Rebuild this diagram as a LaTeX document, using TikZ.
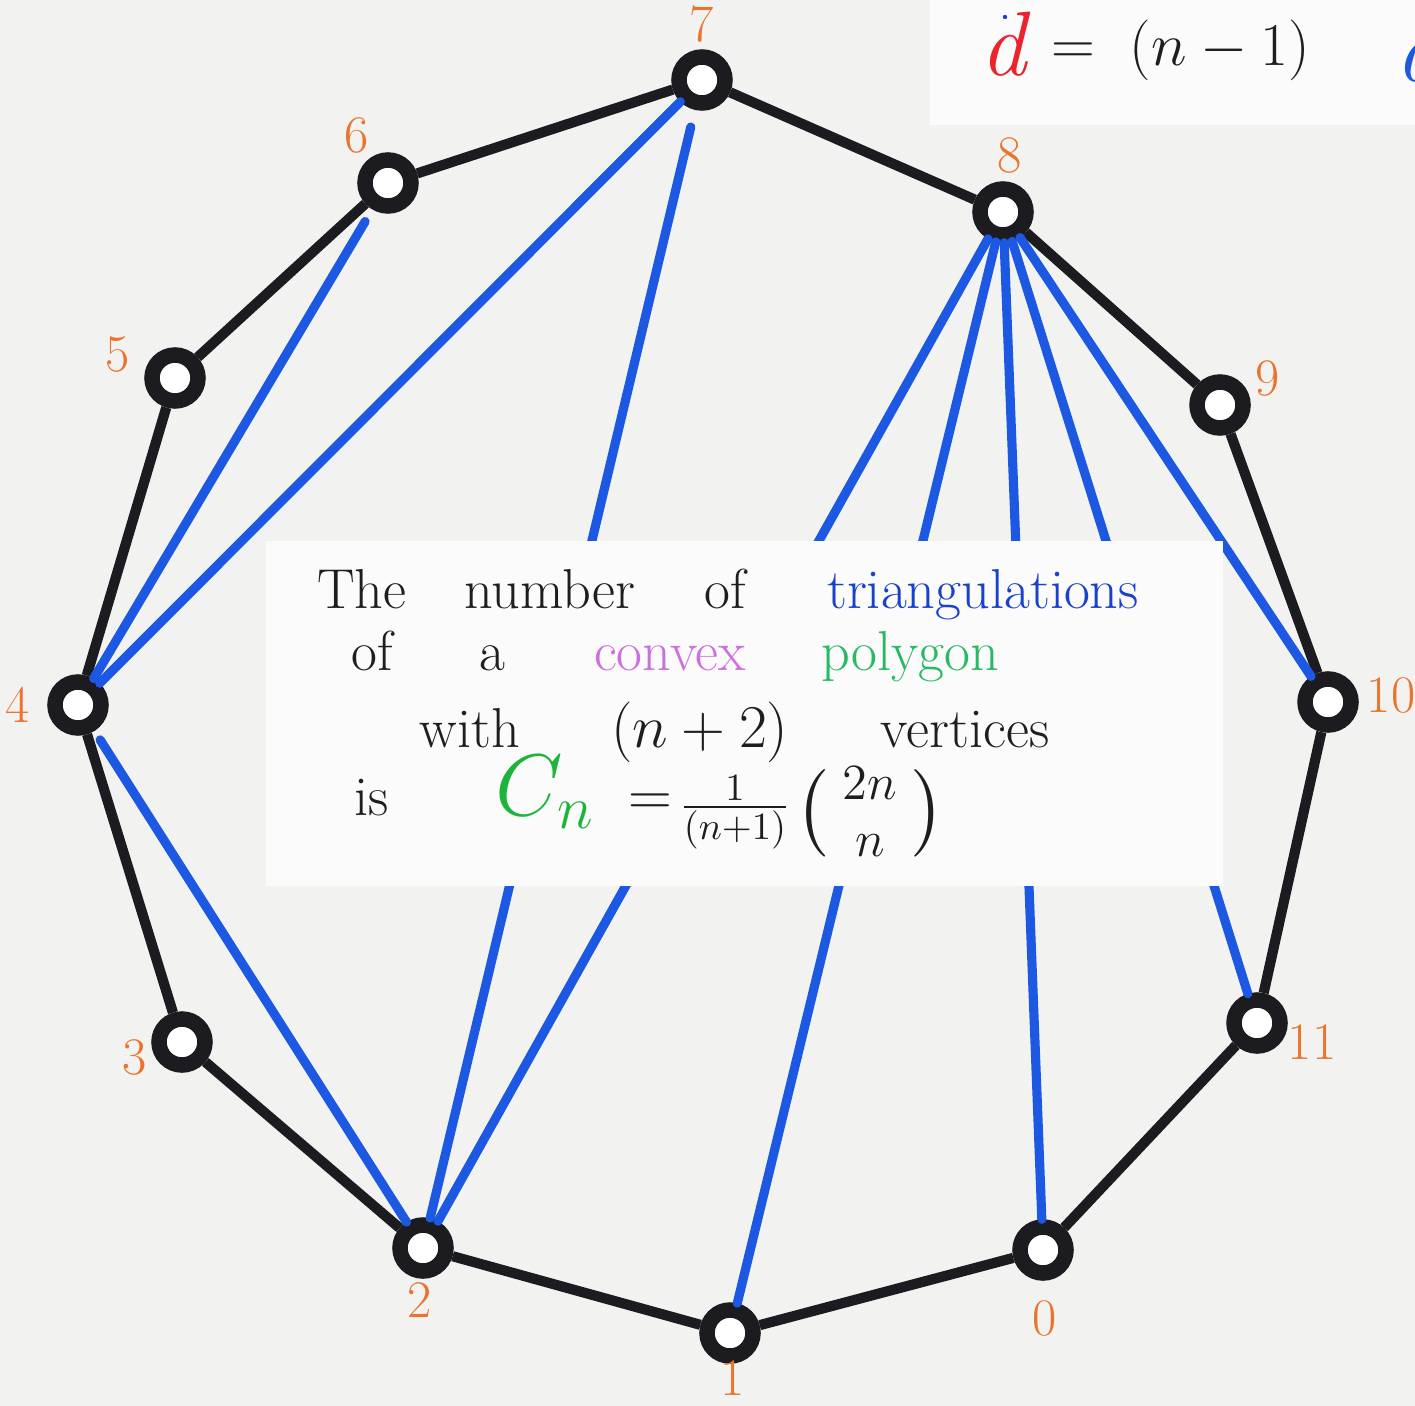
\documentclass[tikz,border=0pt]{standalone}
\usepackage{amsmath}
\usepackage{fontspec}
\definecolor{bgc}{RGB}{242,242,240}
\definecolor{patchc}{RGB}{251,251,251}
\definecolor{boxc}{RGB}{251,251,251}
\definecolor{edgeblack}{RGB}{28,28,32}
\definecolor{diagblue}{RGB}{28,88,225}
\definecolor{labelorange}{RGB}{235,115,45}
\definecolor{convexc}{RGB}{205,110,225}
\definecolor{polyc}{RGB}{40,185,100}
\definecolor{cgreen}{RGB}{30,180,60}
\definecolor{redd}{RGB}{235,35,45}
\definecolor{textblue}{RGB}{25,65,205}
\definecolor{inkc}{RGB}{30,30,30}
\begin{document}
\begin{tikzpicture}[x=0.01cm,y=-0.01cm,
  vtx/.style={circle,draw=edgeblack,line width=4.4pt,fill=white,minimum size=0.46cm,inner sep=0pt},
  lbl/.style={text=labelorange,inner sep=0pt,font=\fontsize{15}{15}\selectfont},
  side/.style={draw=edgeblack,line width=2.9pt},
  diag/.style={draw=diagblue,line width=2.6pt,line cap=round},
  word/.style={anchor=base,inner sep=0pt,text=inkc,font=\fontsize{16}{19}\selectfont}]
\useasboundingbox (0,0) rectangle (1415,1406);
\clip (0,0) rectangle (1415,1406);
\fill[bgc] (0,0) rectangle (1415,1406);
\fill[patchc] (930,0) rectangle (1415,125);
% vertices
\node[vtx] (v0) at (1043,1250) {};
\node[vtx] (v1) at (730,1333) {};
\node[vtx] (v2) at (423,1248) {};
\node[vtx] (v3) at (182,1042) {};
\node[vtx] (v4) at (78,705) {};
\node[vtx] (v5) at (175,378) {};
\node[vtx] (v6) at (388,183) {};
\node[vtx] (v7) at (702,80) {};
\node[vtx] (v8) at (1003,212) {};
\node[vtx] (v9) at (1220,405) {};
\node[vtx] (v10) at (1328,702) {};
\node[vtx] (v11) at (1257,1023) {};
% labels
\node[lbl] (l0) at (1045,1318) {0};
\node[lbl] (l1) at (733,1378) {1};
\node[lbl] (l2) at (420,1300) {2};
\node[lbl] (l3) at (135,1057) {3};
\node[lbl] (l4) at (18,705) {4};
\node[lbl] (l5) at (118,355) {5};
\node[lbl] (l6) at (357,135) {6};
\node[lbl] (l7) at (702,24) {7};
\node[lbl] (l8) at (1010,155) {8};
\node[lbl] (l9) at (1268,378) {9};
\node[lbl] (l10) at (1391,695) {10};
\node[lbl] (l11) at (1312,1042) {11};
% polygon sides
\foreach \a/\b in {0/1,1/2,2/3,3/4,4/5,5/6,6/7,7/8,8/9,9/10,10/11,11/0}
  \draw[side] (v\a) -- (v\b);
% diagonals
\draw[diag,shorten >=4pt] (v4) -- (v6);
\draw[diag] (v4) -- (v7);
\draw[diag,shorten <=5pt] (v7) -- (v2);
\draw[diag,shorten <=3pt] (v4) -- (v2);
\draw[diag] (v2) -- (v8);
\draw[diag] (v8) -- (v1);
\draw[diag] (v8) -- (v0);
\draw[diag] (v8) -- (v11);
\draw[diag] (v8) -- (v10);
% text box
\node[fill=boxc,anchor=north west,minimum width=9.57cm,minimum height=3.45cm,inner sep=0pt] (box) at (265,540) {};
% line 1
\node[word] (w1) at (362,608) {The};
\node[word] (w2) at (550,608) {number};
\node[word] (w3) at (725,608) {of};
\node[word,text=textblue] (w4) at (983,608) {triangulations};
% line 2
\node[word] (w5) at (372,670) {of};
\node[word] (w6) at (492,670) {a};
\node[word,text=convexc] (w7) at (670,670) {convex};
\node[word,text=polyc] (w8) at (910,670) {polygon};
% line 3
\node[word] (w9) at (470,747) {with};
\node[word] (w10) at (700,747) {$(n+2)$};
\node[word] (w11) at (965,747) {vertices};
% line 4
\node[word] (w12) at (372,815) {is};
\node[word,text=cgreen,font=\fontsize{26}{30}\selectfont] (w13) at (545,815) {$C_n$};
\node[word] (w14) at (650,815) {$=$};
\node[inner sep=0pt,text=inkc,font=\fontsize{15}{18}\selectfont] (w15) at (735,812) {$\frac{1}{(n+1)}$};
\node[inner sep=0pt,text=inkc,font=\fontsize{21}{24}\selectfont] (w16) at (870,812) {$\binom{\;2n\;}{n}$};
% top right formula
\node[inner sep=0pt,text=redd,font=\fontsize{26}{26}\selectfont\itshape] (t1) at (1003,44) {d};
\fill[textblue] (1005,17) circle (2.2);
\node[inner sep=0pt,text=inkc,font=\fontsize{18}{20}\selectfont] (t2) at (1073,54) {$=$};
\node[inner sep=0pt,text=inkc,font=\fontsize{19}{22}\selectfont] (t3) at (1220,50) {$(n-1)$};
\node[inner sep=0pt,text=diagblue,font=\fontsize{26}{26}\selectfont\itshape,anchor=west] (t4) at (1395,50) {d};
\end{tikzpicture}
\end{document}
